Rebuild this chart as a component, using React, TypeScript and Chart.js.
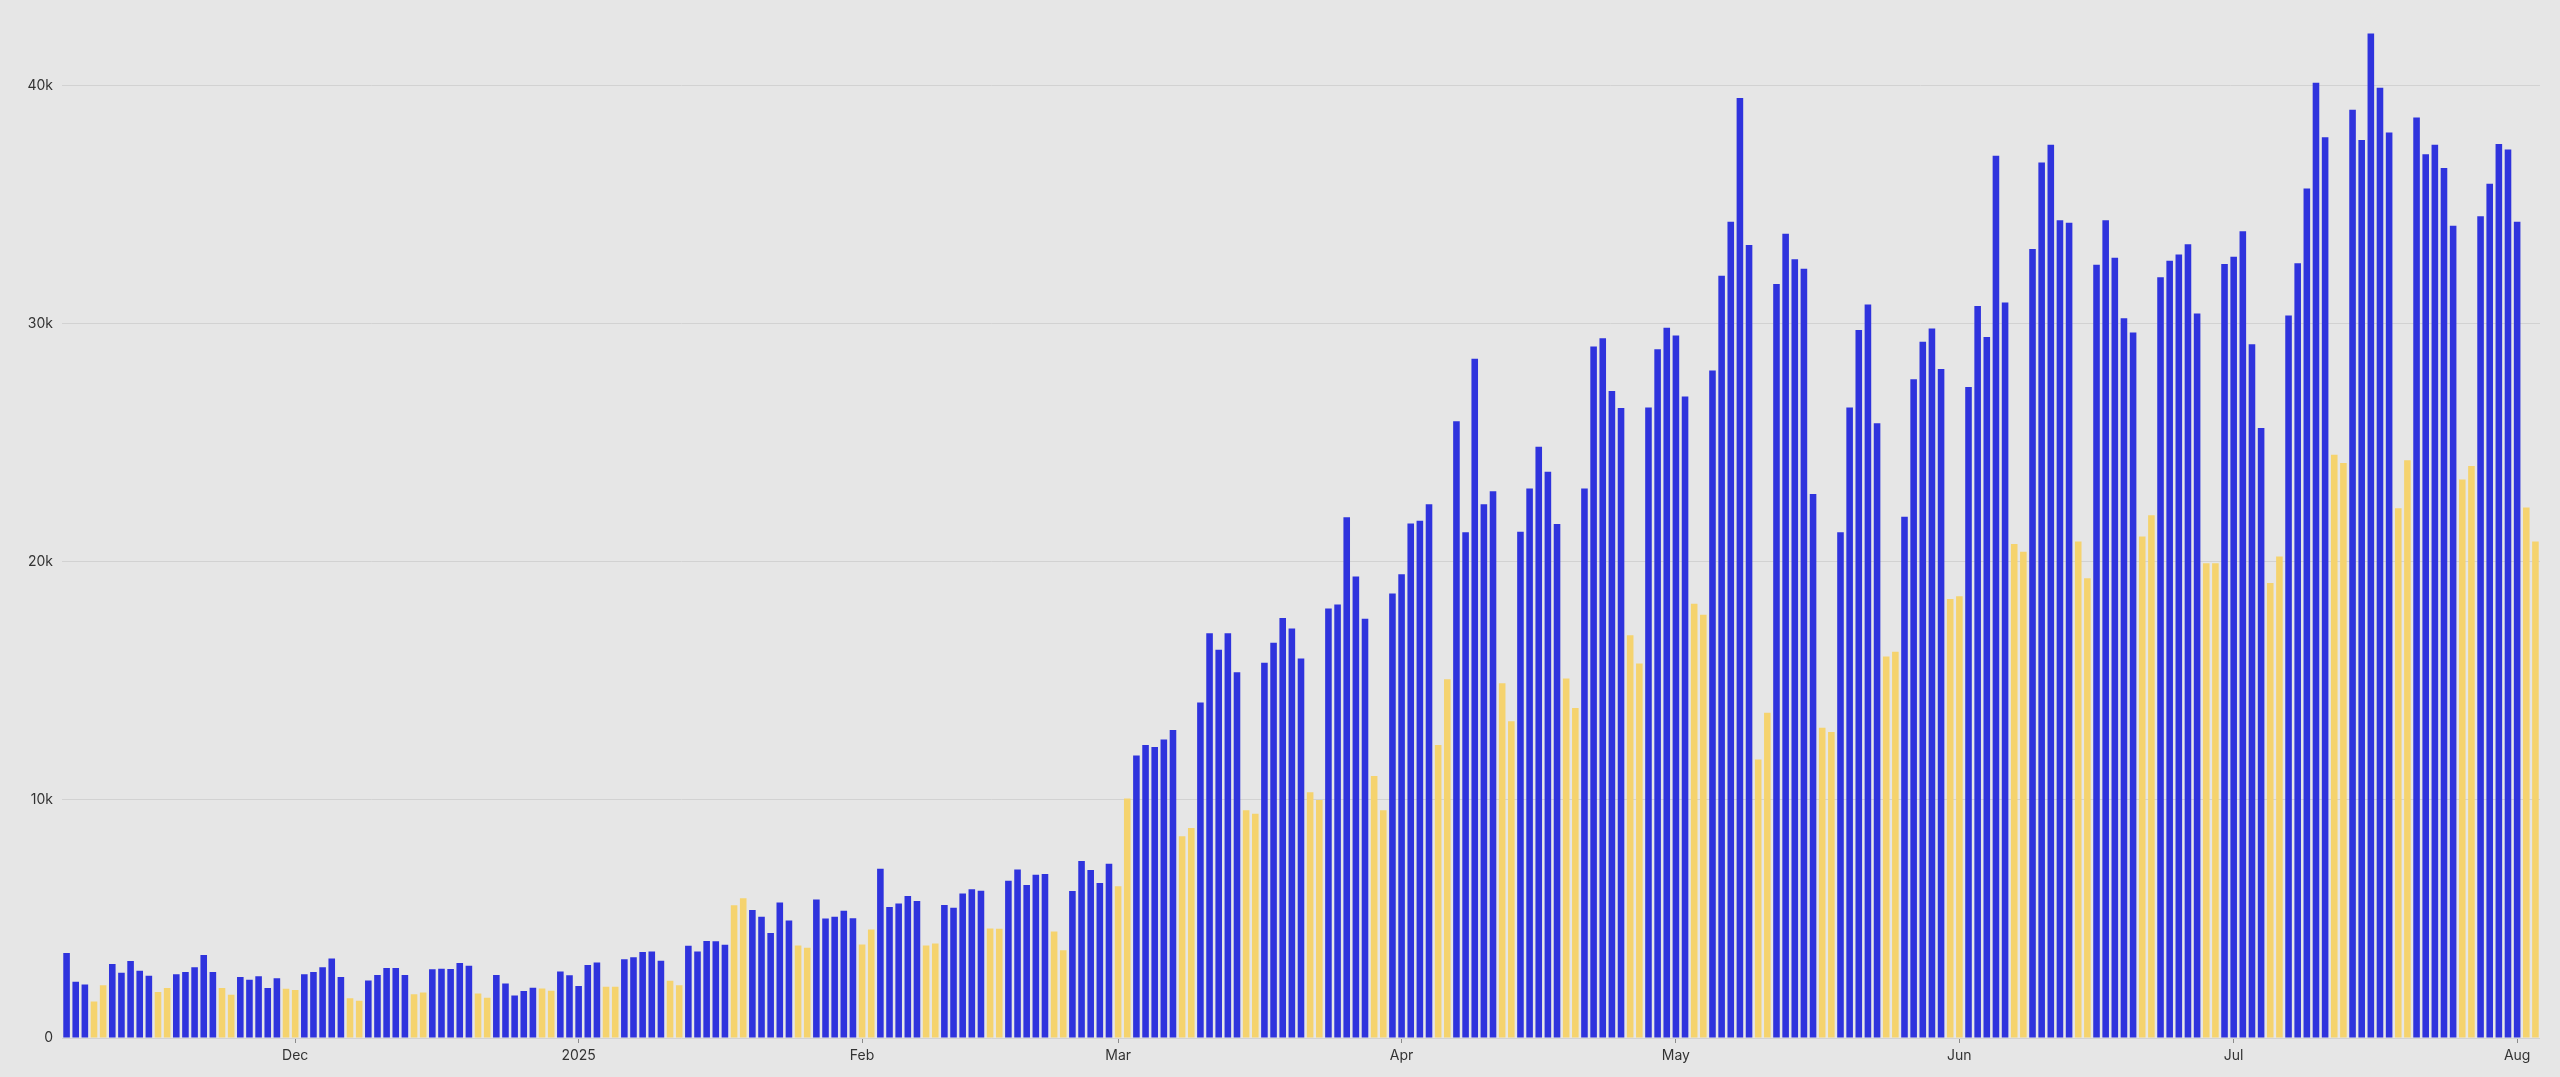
import React, { useRef, useEffect } from 'react';
import { Chart, registerables } from 'chart.js';

Chart.register(...registerables);

// daily values, Nov 6 2024 .. Aug 3 2025
const nov = [3570, 2360, 2250, 1530, 2220, 3110, 2740, 3230, 2820, 2620, 1930, 2100, 2680, 2770, 2970, 3490, 2770, 2100, 1820, 2560, 2450, 2590, 2100, 2510, 2070];
const dec = [2020, 2680, 2770, 2970, 3340, 2560, 1670, 1560, 2420, 2650, 2940, 2940, 2650, 1840, 1910, 2890, 2910, 2900, 3150, 3040, 1870, 1690, 2650, 2290, 1790, 1970, 2110, 2080, 1980, 2790, 2640];
const jan = [2180, 3070, 3170, 2150, 2150, 3310, 3390, 3610, 3630, 3240, 2410, 2220, 3880, 3630, 4070, 4060, 3920, 5580, 5870, 5380, 5090, 4410, 5690, 4940, 3890, 3790, 5820, 5020, 5090, 5340, 5030];
const feb = [3930, 4560, 7110, 5500, 5650, 5960, 5750, 3890, 3970, 5590, 5470, 6070, 6250, 6180, 4600, 4590, 6600, 7080, 6430, 6860, 6890, 4470, 3690, 6170, 7440, 7060, 6510, 7320];
const mar = [6370, 10060, 11870, 12310, 12220, 12540, 12940, 8470, 8820, 14090, 17000, 16310, 17000, 15360, 9570, 9420, 15760, 16600, 17640, 17200, 15940, 10320, 10000, 18040, 18210, 21870, 19390, 17610, 11010, 9570, 18670];
const apr = [19480, 21610, 21730, 22420, 12310, 15070, 25910, 21240, 28530, 22420, 22970, 14900, 13310, 21270, 23080, 24840, 23780, 21590, 15100, 13860, 23080, 29050, 29390, 27180, 26460, 16920, 15730, 26480, 28930, 29830];
const may = [29510, 26950, 18240, 17780, 28040, 32020, 34290, 39480, 33310, 11700, 13660, 31670, 33780, 32710, 32310, 22850, 13030, 12850, 21240, 26480, 29740, 30810, 25820, 16020, 16220, 21900, 27670, 29250, 29800, 28100, 18440];
const jun = [18560, 27350, 30750, 29450, 37060, 30890, 20750, 20430, 33140, 36770, 37520, 34350, 34240, 20860, 19310, 32480, 34350, 32770, 30230, 29630, 21070, 21960, 31960, 32650, 32910, 33340, 30430, 19940, 19940, 32510];
const jul = [32820, 33890, 29140, 25620, 19110, 20230, 30350, 32540, 35680, 40120, 37840, 24500, 24150, 38990, 37720, 42190, 39910, 38040, 22250, 24270, 38670, 37120, 37520, 36540, 34120, 23460, 24030, 34520, 35880, 37550, 37320];
const aug = [34290, 22280, 20860];

const monthSeries = [nov, dec, jan, feb, mar, apr, may, jun, jul, aug];
const monthYears = [2024, 2024, 2025, 2025, 2025, 2025, 2025, 2025, 2025, 2025];
const monthIndex = [10, 11, 0, 1, 2, 3, 4, 5, 6, 7];
const firstDays = [6, 1, 1, 1, 1, 1, 1, 1, 1, 1];
const monthTicks = ['Nov', 'Dec', '2025', 'Feb', 'Mar', 'Apr', 'May', 'Jun', 'Jul', 'Aug'];

const yTicks = [0, 10000, 20000, 30000, 40000];

const BLUE = '#2f33dd';
const YELLOW = '#f5d36e';

const labels: string[] = [];
const tickText: string[] = [];
const weekend: boolean[] = [];
const values: number[] = [];
monthSeries.forEach((arr, m) => {
  arr.forEach((v, i) => {
    const day = firstDays[m] + i;
    const d = new Date(Date.UTC(monthYears[m], monthIndex[m], day));
    labels.push(d.toISOString().slice(0, 10));
    tickText.push(day === 1 ? monthTicks[m] : '');
    const dow = d.getUTCDay();
    weekend.push(dow === 0 || dow === 6);
    values.push(v);
  });
});

export default function App() {
  const ref = useRef<HTMLCanvasElement>(null);
  const chartRef = useRef<Chart | null>(null);

  useEffect(() => {
    document.body.style.margin = '0';
    const canvas = ref.current;
    if (!canvas) return;
    chartRef.current?.destroy();

    chartRef.current = new Chart(canvas, {
      type: 'bar',
      data: {
        labels,
        datasets: [{
          data: values,
          backgroundColor: weekend.map(w => (w ? YELLOW : BLUE)),
          borderWidth: 0,
          barPercentage: 0.72,
          categoryPercentage: 1,
        }],
      },
      options: {
        responsive: false,
        animation: false,
        devicePixelRatio: 1,
        layout: { padding: { top: 0, right: 20, left: 0, bottom: 0 } },
        plugins: {
          legend: { display: false },
          tooltip: { enabled: false },
        },
        scales: {
          x: {
            border: { display: false },
            grid: {
              display: true,
              offset: false,
              drawOnChartArea: false,
              drawTicks: true,
              tickLength: 5,
              color: (ctx: any) => (tickText[ctx.index] ? '#8a8a8a' : 'rgba(0,0,0,0)'),
            },
            ticks: {
              autoSkip: false,
              maxRotation: 0,
              minRotation: 0,
              padding: 4,
              color: '#333',
              font: { family: 'Inter, sans-serif', size: 14 },
              callback: (_v: any, i: number) => tickText[i],
            },
            afterFit: (s: any) => { s.height = 39; },
          },
          y: {
            min: 0,
            max: 42870,
            border: { display: false },
            grid: { color: '#d2d2d2', lineWidth: 1, drawTicks: false },
            afterBuildTicks: (s: any) => { s.ticks = yTicks.map(v => ({ value: v })); },
            ticks: {
              padding: 9,
              color: '#333',
              font: { family: 'Inter, sans-serif', size: 14 },
              callback: (v: any) => (v === 0 ? '0' : `${v / 1000}k`),
            },
            afterFit: (s: any) => { s.width = 62; },
          },
        },
      },
    });

    return () => { chartRef.current?.destroy(); };
  }, []);

  return (
    <div style={{ width: 2560, height: 1077, background: '#e6e6e6' }}>
      <canvas ref={ref} width={2560} height={1077} style={{ display: 'block' }} />
    </div>
  );
}
